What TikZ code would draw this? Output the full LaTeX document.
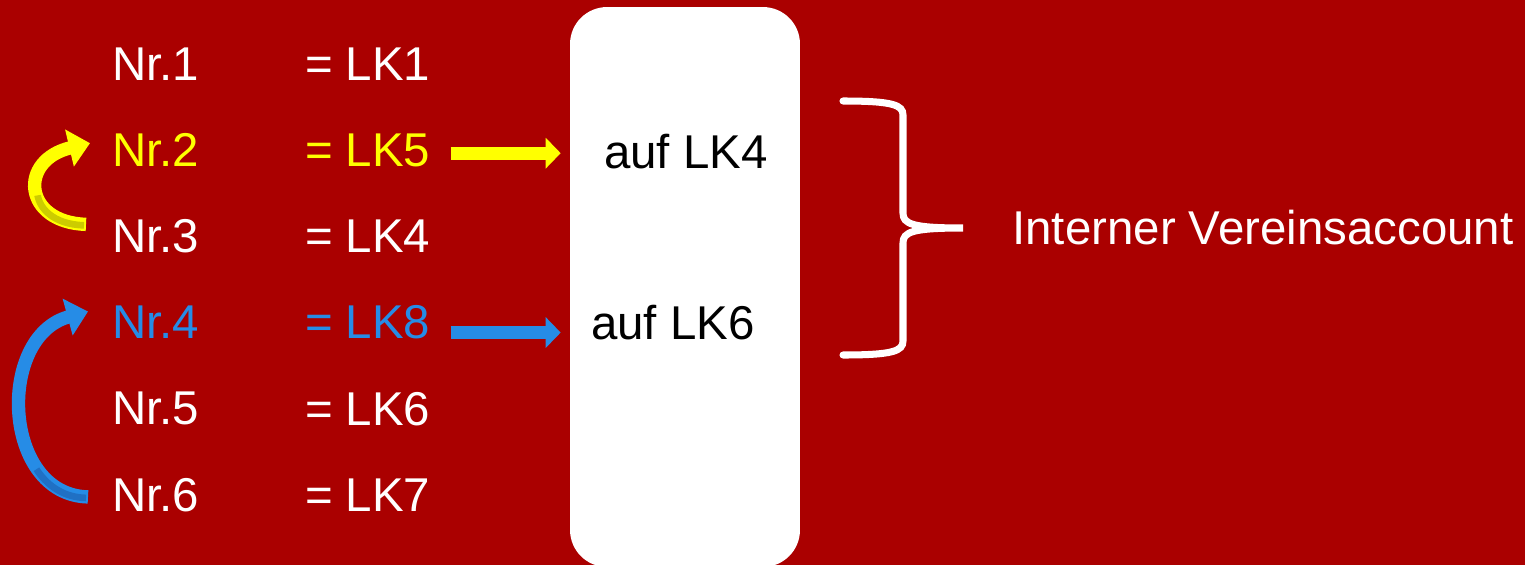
\documentclass[tikz,border=0pt]{standalone}
\usepackage{fontspec}
\setmainfont{Liberation Sans}
\usetikzlibrary{arrows.meta, positioning, calc}
\definecolor{bgred}{RGB}{170,0,0}
\definecolor{lkyellow}{RGB}{255,255,0}
\definecolor{lkyellowdark}{RGB}{204,204,0}
\definecolor{lkblue}{RGB}{38,140,230}
\definecolor{lkbluedark}{RGB}{32,112,196}
\tikzset{
    txt/.style={font=\fontsize{27}{32}\selectfont, text=white, inner sep=0pt},
    hilite/.style={text=#1},
    flatarrow/.style={draw=#1, line width=7.4pt, line cap=butt, -{Triangle[length=8.5pt, width=17pt]}},
    bendarrow/.style={draw=#1, line width=7.6pt, line cap=butt, -{Triangle[length=12pt, width=21pt]}},
    bendshade/.style={draw=#1, line width=3.8pt, line cap=butt, dash pattern=on 34pt off 400pt},
}
\begin{document}
\begin{tikzpicture}[x=0.02cm, y=-0.02cm]
    \useasboundingbox (0,0) rectangle (1525,565);
    \fill[bgred] (0,0) rectangle (1525,565);

    % left column
    \node[txt, anchor=west] (n1) at (112,64) {Nr.1};
    \node[txt, below=1.724cm of n1.west, anchor=west, hilite=lkyellow] (n2) {Nr.2};
    \node[txt, below=1.724cm of n2.west, anchor=west] (n3) {Nr.3};
    \node[txt, below=1.724cm of n3.west, anchor=west, hilite=lkblue] (n4) {Nr.4};
    \node[txt, below=1.724cm of n4.west, anchor=west] (n5) {Nr.5};
    \node[txt, below=1.724cm of n5.west, anchor=west] (n6) {Nr.6};

    \node[txt, right=2.1cm of n1] (lk1) {= LK1};
    \node[txt, right=2.1cm of n2, hilite=lkyellow] (lk5) {= LK5};
    \node[txt, right=2.1cm of n3] (lk4) {= LK4};
    \node[txt, right=2.1cm of n4, hilite=lkblue] (lk8) {= LK8};
    \node[txt, right=2.1cm of n5] (lk6) {= LK6};
    \node[txt, right=2.1cm of n6] (lk7) {= LK7};

    % swaps
    \draw[bendarrow=lkyellow] ($(n3.west)+(-26,-12)$) .. controls +(-63,-2) and +(-72,17) .. ($(n2.west)+(-22,-7)$);
    \draw[bendshade=lkyellowdark] ($(n3.west)+(-28,-11)$) .. controls +(-61,-2) and +(-72,17) .. ($(n2.west)+(-22,-7)$);
    \draw[bendarrow=lkblue] ($(n6.west)+(-24,2)$) .. controls +(-86,-2) and +(-92,25) .. ($(n4.west)+(-24,-11)$);
    \draw[bendshade=lkbluedark] ($(n6.west)+(-26,3)$) .. controls +(-84,-2) and +(-92,25) .. ($(n4.west)+(-24,-11)$);

    % account box
    \node[fill=white, rounded corners=0.74cm, minimum width=4.6cm, minimum height=11.2cm, inner sep=0pt] (box) at (685,287) {};
    \node[txt, text=black] (auf4) at (686,152) {auf LK4};
    \node[txt, text=black] (auf6) at (673,323) {auf LK6};

    \draw[flatarrow=lkyellow] ($(lk5.east)+(20,3)$) -- ($(box.west |- lk5.east)+(-9,3)$);
    \draw[flatarrow=lkblue] ($(lk8.east)+(20,10)$) -- ($(box.west |- lk8.east)+(-9,10)$);

    % brace
    \coordinate (tip) at (963,228);
    \draw[white, line width=4pt, line cap=round]
        (843,101) .. controls (893,101) and (903,105) .. (903,115) -- (903,213)
        .. controls (903,224) and (912,228) .. (tip)
        .. controls (912,228) and (903,232) .. (903,243) -- (903,341)
        .. controls (903,351) and (893,355) .. (843,355);
    \node[txt, right=0.98cm of tip] (acct) {Interner Vereinsaccount};
\end{tikzpicture}
\end{document}
